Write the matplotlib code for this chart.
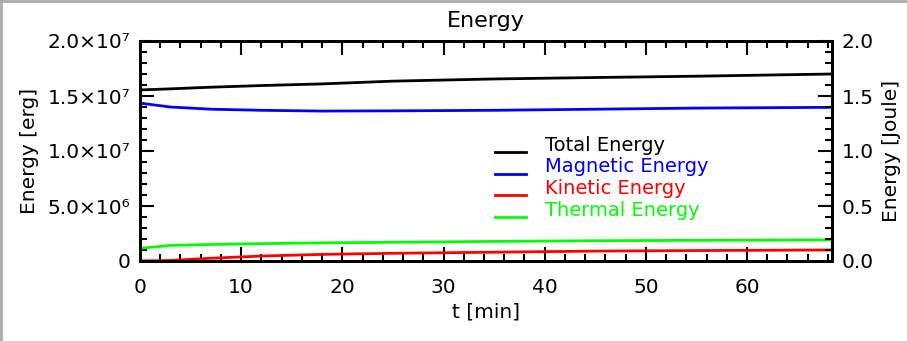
import numpy as np
import matplotlib
matplotlib.use("Agg")
import matplotlib.pyplot as plt
from matplotlib.lines import Line2D
from matplotlib.ticker import MultipleLocator

# time samples [min] and energies [erg]
t = [0, 3, 7, 12, 18, 25, 35, 45, 55, 68.4]
total = [1.555e7, 1.565e7, 1.58e7, 1.595e7, 1.61e7, 1.635e7, 1.655e7, 1.668e7, 1.68e7, 1.70e7]
magnetic = [1.435e7, 1.40e7, 1.38e7, 1.37e7, 1.363e7, 1.365e7, 1.37e7, 1.38e7, 1.39e7, 1.397e7]
kinetic = [0.0, 0.05e6, 0.25e6, 0.45e6, 0.6e6, 0.7e6, 0.8e6, 0.9e6, 0.95e6, 1.0e6]
thermal = [1.15e6, 1.42e6, 1.5e6, 1.58e6, 1.65e6, 1.7e6, 1.78e6, 1.84e6, 1.88e6, 1.92e6]

names = ["Total Energy", "Magnetic Energy", "Kinetic Energy", "Thermal Energy"]
colors = ["black", "#0000ff", "#ff0000", "#00ff00"]

yticks = [0, 5e6, 1e7, 1.5e7, 2e7]
ylabels = ["0", "5.0×10⁶", "1.0×10⁷", "1.5×10⁷", "2.0×10⁷"]

fs = 14.5
fig = plt.figure(figsize=(9.07, 3.41), dpi=100)
ax = fig.add_axes([140/907, 80/341, 692/907, 220/341])

for y, c in zip([total, magnetic, kinetic, thermal], colors):
    ax.plot(t, y, color=c, lw=2)

ax.set_xlim(0, 68.4)
ax.set_ylim(0, 2e7)
ax.set_yticks(yticks)
ax.set_yticklabels(ylabels, fontsize=fs)
ax.yaxis.set_minor_locator(MultipleLocator(1e6))
ax.xaxis.set_major_locator(MultipleLocator(10))
ax.xaxis.set_minor_locator(MultipleLocator(2))
ax.tick_params(axis="x", labelsize=fs, pad=12)
ax.tick_params(axis="y", pad=7)
ax.tick_params(which="major", direction="in", length=10, width=1.5, top=True)
ax.tick_params(which="minor", direction="in", length=5, width=1.5, top=True)
for s in ax.spines.values():
    s.set_linewidth(2)

ax.set_title("Energy", fontsize=16, pad=10)
ax.set_xlabel("t [min]", fontsize=fs, labelpad=4)
ax.set_ylabel("Energy [erg]", fontsize=fs, labelpad=6)

ax2 = ax.twinx()
ax2.set_ylim(0, 2.0)
ax2.yaxis.set_major_locator(MultipleLocator(0.5))
ax2.yaxis.set_minor_locator(MultipleLocator(0.1))
ax2.yaxis.set_major_formatter(matplotlib.ticker.FormatStrFormatter("%.1f"))
ax2.tick_params(which="major", direction="in", length=10, width=1.5, labelsize=fs, pad=7)
ax2.tick_params(which="minor", direction="in", length=5, width=1.5)
ax2.set_ylabel("Energy [Joule]", fontsize=fs, labelpad=6)
for s in ax2.spines.values():
    s.set_linewidth(2)

# legend drawn IDL-style
for i, (n, c) in enumerate(zip(names, colors)):
    yy = 1 - (145 + i * 21.7) / 341
    fig.add_artist(Line2D([495/907, 526/907], [yy - 7/341, yy - 7/341], color=c, lw=2))
    fig.text(545/907, yy, n, color=c, fontsize=14, va="center")

# grey frame at top and left
fig.add_artist(Line2D([0.001, 0.001], [0, 1], color="#aaaaaa", lw=2))
fig.add_artist(Line2D([0, 1], [0.997, 0.997], color="#aaaaaa", lw=2))

fig.savefig("out.png", dpi=100)
